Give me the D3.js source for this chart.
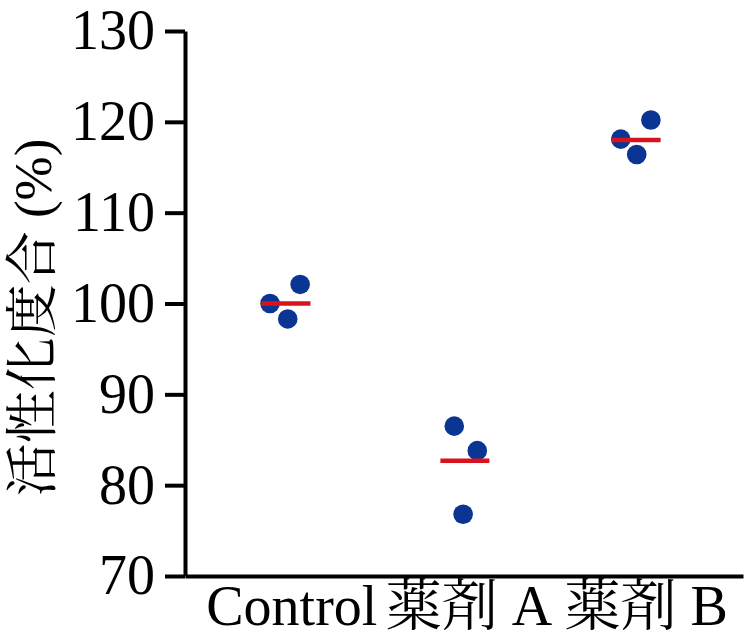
<!DOCTYPE html>
<html>
<head>
<meta charset="utf-8">
<script src="https://cdn.jsdelivr.net/npm/d3@7"></script>
<style>
  html, body { margin: 0; padding: 0; background: #ffffff; }
  svg { display: block; }
</style>
</head>
<body>
<svg id="chart" width="752" height="643"></svg>
<script>
// ---- data ----
const categories = ["Control", "薬剤 A", "薬剤 B"];
const valuesControl = [100.0, 102.1, 98.3];
const valuesDrugA   = [86.5, 83.8, 76.8];
const valuesDrugB   = [118.1, 120.2, 116.4];
const jitterControl = [-0.12, 0.05, -0.02];
const jitterDrugA   = [-0.08, 0.05, -0.03];
const jitterDrugB   = [-0.14, 0.03, -0.05];
const groupMeans    = [100.0, 82.7, 118.0];
const yTicks        = [70, 80, 90, 100, 110, 120, 130];
const yTitle        = "活性化度合 (%)";

const seriesValues = [valuesControl, valuesDrugA, valuesDrugB];
const seriesJitter = [jitterControl, jitterDrugA, jitterDrugB];

// ---- layout ----
const svg = d3.select("#chart");
const plotLeft = 185, plotRight = 743, plotTop = 31, plotBottom = 576;
const fontLatin = '"Liberation Serif", "Noto Serif CJK JP", "Noto Sans CJK JP", serif';
const dotColor = "#0b3592";
const lineColor = "#d7141e";

const x = d3.scaleLinear().domain([0.40, 3.55]).range([plotLeft, plotRight]);
const y = d3.scaleLinear().domain([70, 130]).range([plotBottom, plotTop]);

// points
const points = [];
seriesValues.forEach((vals, i) => {
  vals.forEach((v, j) => points.push({ g: i, x: i + 1 + seriesJitter[i][j], v }));
});

svg.append("g").selectAll("circle")
  .data(points).join("circle")
  .attr("cx", d => x(d.x))
  .attr("cy", d => y(d.v))
  .attr("r", 9.8)
  .attr("fill", dotColor);

// mean lines, centered on the mean jittered position of each group
const meanLines = groupMeans.map((m, i) => ({
  cx: d3.mean(seriesJitter[i], j => i + 1 + j),
  v: m
}));
svg.append("g").selectAll("line")
  .data(meanLines).join("line")
  .attr("x1", d => x(d.cx) - 24.5)
  .attr("x2", d => x(d.cx) + 24.5)
  .attr("y1", d => y(d.v))
  .attr("y2", d => y(d.v))
  .attr("stroke", lineColor)
  .attr("stroke-width", 4.5);

// y axis
const yAxis = svg.append("g")
  .attr("transform", `translate(${plotLeft},0)`)
  .call(d3.axisLeft(y).tickValues(yTicks).tickSize(20).tickSizeOuter(0).tickPadding(10));
yAxis.select(".domain").attr("stroke", "#000").attr("stroke-width", 4);
yAxis.selectAll(".tick line").attr("stroke", "#000").attr("stroke-width", 4);
yAxis.selectAll(".tick text")
  .attr("fill", "#000")
  .style("font-family", fontLatin)
  .style("font-size", "56px");

// x axis
const xAxis = svg.append("g")
  .attr("transform", `translate(0,${plotBottom})`)
  .call(d3.axisBottom(x).tickValues([1, 2, 3])
    .tickFormat(d => categories[d - 1])
    .tickSize(0).tickSizeOuter(0).tickPadding(9));
xAxis.select(".domain").attr("stroke", "#000").attr("stroke-width", 4);
xAxis.selectAll(".tick text")
  .attr("fill", "#000")
  .style("font-family", fontLatin)
  .style("font-size", "56px");

// y title
svg.append("text")
  .attr("transform", `translate(51,${(plotTop + plotBottom) / 2 + 14}) rotate(-90)`)
  .attr("text-anchor", "middle")
  .style("font-family", fontLatin)
  .style("font-size", "53px")
  .attr("fill", "#000")
  .text(yTitle);
</script>
</body>
</html>
